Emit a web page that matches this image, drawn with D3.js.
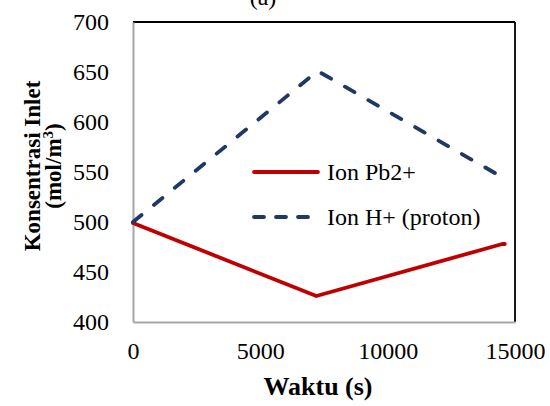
<!DOCTYPE html>
<html><head><meta charset="utf-8">
<script src="https://cdn.jsdelivr.net/npm/d3@7"></script>
<style>
html,body{margin:0;padding:0;background:#fff;}
svg{display:block;}
svg text{font-family:"Liberation Serif","Times New Roman",serif !important;}
</style></head>
<body><svg id="c" width="550" height="406"></svg>
<script>
const pbTime = [0, 7200, 14500, 14600];
const pbValues = [499, 426, 478, 478];
const hTime = [0, 7250, 14550];
const hValues = [500, 651, 544];
const seriesNames = ["Ion Pb2+", "Ion H+ (proton)"];
const xTicks = [0, 5000, 10000, 15000];
const yTicks = [400, 450, 500, 550, 600, 650, 700];

const svg = d3.select("#c");
const L = 133, R = 515, T = 22, B = 322;
const x = d3.scaleLinear().domain([0, 15000]).range([L, R]);
const y = d3.scaleLinear().domain([400, 700]).range([B, T]);

// title (cut off at the top, as in the reference)
svg.append("text").attr("x", 263).attr("y", 5).attr("text-anchor", "middle")
  .attr("font-size", 24).text("(a)");

// frame
svg.append("line").attr("x1", L).attr("x2", R).attr("y1", T).attr("y2", T).attr("stroke", "#000").attr("stroke-width", 1.8);
svg.append("line").attr("x1", R).attr("x2", R).attr("y1", T).attr("y2", B).attr("stroke", "#000").attr("stroke-width", 1.8);

// axes
const yAxis = d3.axisLeft(y).tickValues(yTicks).tickSize(0).tickPadding(24).tickFormat(d3.format("d"));
const gy = svg.append("g").attr("transform", `translate(${L},0)`).call(yAxis);
gy.select(".domain").attr("stroke", "#a6a6a6").attr("stroke-width", 2);
gy.attr("font-family", null).attr("font-size", null);
gy.selectAll("text").attr("font-size", 24).attr("fill", "#000");

const xAxis = d3.axisBottom(x).tickValues(xTicks).tickSize(0).tickPadding(20).tickFormat(d3.format("d"));
const gx = svg.append("g").attr("transform", `translate(0,${B})`).call(xAxis);
gx.select(".domain").attr("stroke", "#a6a6a6").attr("stroke-width", 2);
gx.attr("font-family", null).attr("font-size", null);
gx.selectAll("text").attr("font-size", 24).attr("fill", "#000");

// axis titles
svg.append("text").attr("x", 318).attr("y", 395).attr("text-anchor", "middle")
  .attr("font-size", 26).attr("font-weight", "bold").text("Waktu (s)");
const yt = svg.append("text").attr("transform", "translate(0,166) rotate(-90)")
  .attr("text-anchor", "middle").attr("font-size", 23).attr("font-weight", "bold");
yt.append("tspan").attr("x", 0).attr("y", 40).text("Konsentrasi Inlet");
const t2 = yt.append("tspan").attr("x", 0).attr("y", 61);
t2.append("tspan").text("(mol/m");
t2.append("tspan").attr("baseline-shift", "super").attr("font-size", 15).text("3");
t2.append("tspan").text(")");

// lines
const line = d3.line().x(d => x(d[0])).y(d => y(d[1]));
const pbData = pbTime.map((t, i) => [t, pbValues[i]]);
const hData = hTime.map((t, i) => [t, hValues[i]]);
svg.append("path").datum(pbData).attr("d", line).attr("fill", "none")
  .attr("stroke", "#c00000").attr("stroke-width", 3.8).attr("stroke-linejoin", "round").attr("stroke-linecap", "round");
svg.append("path").datum(hData).attr("d", line).attr("fill", "none")
  .attr("stroke", "#1f3864").attr("stroke-width", 3.8).attr("stroke-dasharray", "11,16").attr("stroke-linecap", "round");

// legend
const lg = [[172, "#c00000", null], [217, "#1f3864", "10,12"]];
lg.forEach((l, i) => {
  svg.append("line").attr("x1", 254).attr("x2", 318).attr("y1", l[0]).attr("y2", l[0])
    .attr("stroke", l[1]).attr("stroke-width", 3.8).attr("stroke-linecap", "round")
    .attr("stroke-dasharray", l[2]);
  svg.append("text").attr("x", 327).attr("y", l[0] + 8).attr("font-size", 24).text(seriesNames[i]);
});
</script></body></html>
